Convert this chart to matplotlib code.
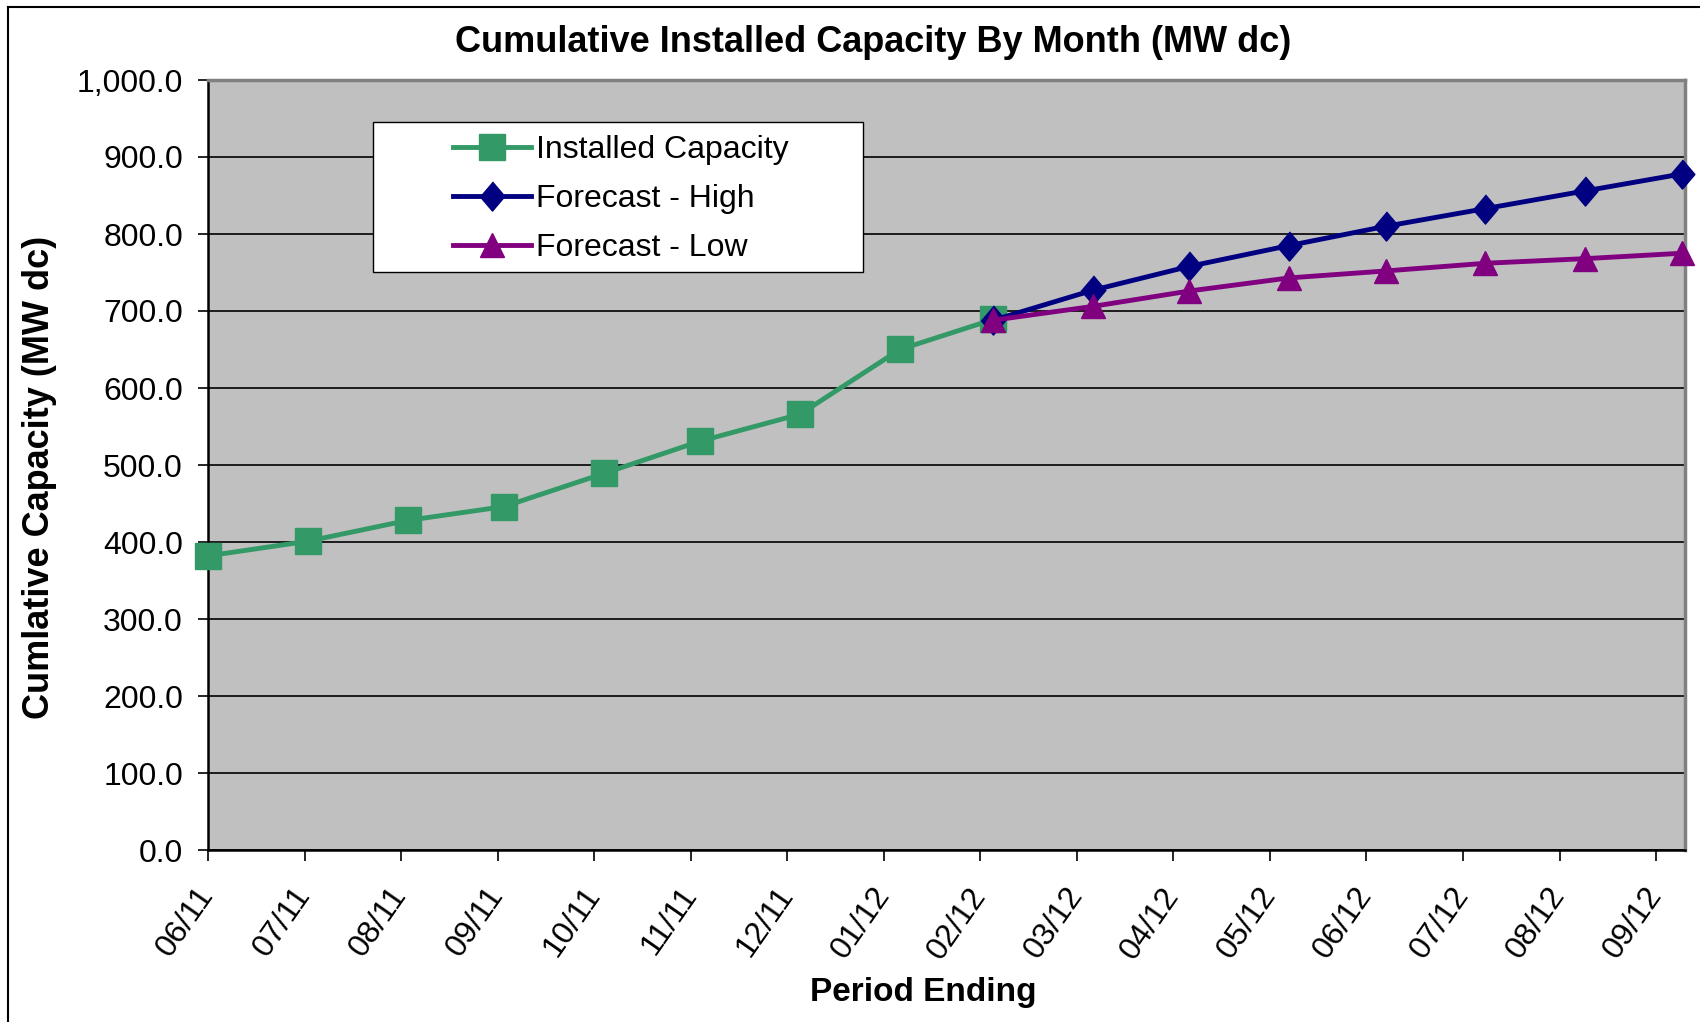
import numpy as np
import matplotlib
matplotlib.use('Agg')
import matplotlib.pyplot as plt
import matplotlib.dates as mdates
from matplotlib.patches import Rectangle
from matplotlib.lines import Line2D

plt.rcParams['font.family'] = ['Liberation Sans', 'DejaVu Sans']

# Data (MW dc, month-end points)
installed_dates = ['2011-06-30', '2011-07-31', '2011-08-31', '2011-09-30', '2011-10-31',
                   '2011-11-30', '2011-12-31', '2012-01-31', '2012-02-29']
installed = [382, 401, 428, 446, 489, 531, 566, 650, 689]

forecast_dates = ['2012-02-29', '2012-03-31', '2012-04-30', '2012-05-31',
                  '2012-06-30', '2012-07-31', '2012-08-31', '2012-09-30']
forecast_high = [688, 727, 758, 785, 810, 833, 856, 878]
forecast_low = [688, 706, 726, 743, 752, 762, 768, 775]

green = '#339966'
navy = '#000080'
purple = '#800080'

x_inst = np.array(installed_dates, dtype='datetime64[D]')
x_fc = np.array(forecast_dates, dtype='datetime64[D]')

fig = plt.figure(figsize=(17, 10.22), dpi=100)
ax = fig.add_axes([208 / 1700, 1 - 850 / 1022, 1477 / 1700, 770 / 1022])
ax.set_facecolor('#C0C0C0')

diamond = [(0, 1), (0.85, 0), (0, -1), (-0.85, 0)]

ax.plot(x_inst, installed, color=green, lw=3.5, marker='s', ms=19,
        label='Installed Capacity', zorder=3, clip_on=False)
ax.plot(x_fc, forecast_high, color=navy, lw=3.5, marker=diamond, ms=21,
        label='Forecast - High', zorder=4, clip_on=False)
ax.plot(x_fc, forecast_low, color=purple, lw=3.5, marker='^', ms=17,
        label='Forecast - Low', zorder=5, clip_on=False)

# y axis
ax.set_ylim(0, 1000)
ax.set_yticks(np.arange(0, 1001, 100))
ax.yaxis.set_major_formatter(plt.FuncFormatter(lambda v, p: '{:,.1f}'.format(v)))
ax.grid(axis='y', color='black', lw=1.2)
ax.set_axisbelow(True)

# x axis: Excel date axis with a 30 day major unit
start = np.datetime64('2011-06-30')
ax.set_xlim(mdates.date2num(start), mdates.date2num(np.datetime64('2012-10-01')))
ax.set_xticks(mdates.date2num(start + np.arange(16) * np.timedelta64(30, 'D')))
ax.xaxis.set_major_formatter(mdates.DateFormatter('%m/%y'))

ax.tick_params(axis='y', direction='out', length=7, width=1.2, pad=11,
               labelsize=23, colors='black')
ax.tick_params(axis='x', direction='out', length=8, width=1.2, pad=21,
               labelsize=23, colors='black')
for lbl in ax.get_xticklabels():
    lbl.set_rotation(55)
    lbl.set_ha('right')
    lbl.set_va('center')
    lbl.set_rotation_mode('anchor')

for s in ['left', 'bottom']:
    ax.spines[s].set_color('black')
    ax.spines[s].set_linewidth(1.8)
for s in ['top', 'right']:
    ax.spines[s].set_color('#808080')
    ax.spines[s].set_linewidth(2.5)

# titles
fig.text(873 / 1700, 1 - 42 / 1022, 'Cumulative Installed Capacity By Month (MW dc)',
         ha='center', va='center', fontsize=26, fontweight='bold')
fig.text(923 / 1700, 1 - 992 / 1022, 'Period Ending',
         ha='center', va='center', fontsize=24, fontweight='bold')
fig.text(40 / 1700, 1 - 477 / 1022, 'Cumlative Capacity (MW dc)', rotation=90,
         ha='center', va='center', fontsize=26, fontweight='bold')

# legend box
fig.add_artist(Rectangle((373 / 1700, 1 - 272 / 1022), 490 / 1700, 150 / 1022,
                         transform=fig.transFigure, facecolor='white',
                         edgecolor='black', lw=1, zorder=1))
fig.legend(loc='center left', bbox_to_anchor=(453 / 1700, 1 - 199 / 1022),
           frameon=False, fontsize=23, handlelength=2.44, handletextpad=0.15,
           labelspacing=0.6, borderpad=0, borderaxespad=0)

# outer chart border (cropped on the right and bottom)
fig.add_artist(Line2D([8 / 1700, 8 / 1700], [0, 1 - 7 / 1022], transform=fig.transFigure,
                      color='black', lw=1.5))
fig.add_artist(Line2D([8 / 1700, 1], [1 - 7 / 1022, 1 - 7 / 1022], transform=fig.transFigure,
                      color='black', lw=1.5))

fig.savefig('out.png', dpi=100)
